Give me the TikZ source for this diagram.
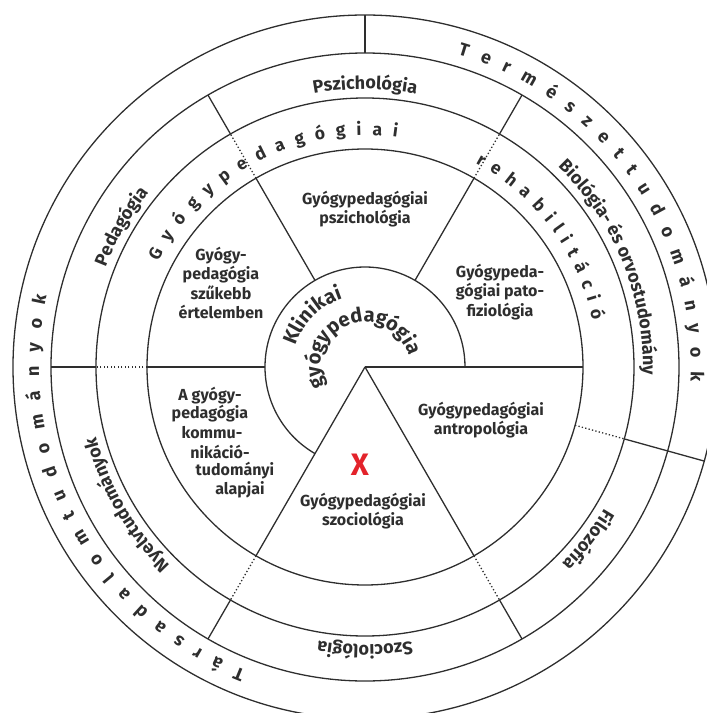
\documentclass[tikz,border=0pt]{standalone}
\usepackage{fontspec}
\setmainfont{Fira Sans}
\usetikzlibrary{decorations.text}
\definecolor{ink}{HTML}{2E2E2E}
\definecolor{xred}{HTML}{E3232B}
\newcommand\labfnt{\fontsize{16}{19.5}\selectfont\bfseries}
\newcommand\ringfnt{\fontsize{18}{18}\selectfont\bfseries}
\newcommand\spacedfnt{\fontsize{17.5}{17.5}\selectfont\bfseries}
\newcommand\outerfnt{\fontsize{18}{18}\selectfont\bfseries}
\newcommand\klinfnt{\fontsize{20}{20}\selectfont\bfseries}
\begin{document}
\begin{tikzpicture}[x=1pt,y=1pt,
  line/.style={draw=ink,line width=1.3pt},
  dots/.style={draw=ink,line width=1.3pt,dash pattern=on 1.3pt off 2.2pt},
  lab/.style={text=ink,font=\labfnt,align=center,inner sep=0pt},
  curved/.style={decorate,decoration={text along path,text color=ink,text align=center,text={#1}}},
  spaced/.style={decorate,decoration={text along path,text color=ink,text align=fit to path,text={#1}}}]
\useasboundingbox (-365,-346) rectangle (342,367);
\coordinate (O) at (0,0);
% circles
\draw[line] (O) circle[radius=352];
\draw[line] (O) circle[radius=314];
\draw[line] (O) circle[radius=269];
\draw[line] (O) circle[radius=218];
\draw[line] (0:100) arc[start angle=0,end angle=240,radius=100];
% radial lines
\foreach \a in {60,120,180}{\draw[line] (\a:100) -- (\a:218);}
\foreach \a in {0,240,300}{\draw[line] (O) -- (\a:218);}
\foreach \a in {60,120,180,240,300,344.5}{\draw[dots] (\a:218) -- (\a:269);}
\foreach \a in {60,120,180,240,300}{\draw[line] (\a:269) -- (\a:314);}
\draw[line] (344.5:269) -- (344.5:352);
\draw[line] (90:314) -- (90:352);
% inner labels
\node[lab] (psz) at (0,158) {Gyógypedagógiai\\pszichológia};
\node[lab] (pato) at (135,75) {Gyógypeda-\\gógiai pato-\\fiziológia};
\node[lab] (szuk) at (-144,84) {Gyógy-\\pedagógia\\szűkebb\\értelemben};
\node[lab] (antro) at (116,-53) {Gyógypedagógiai\\antropológia};
\node[lab] (szoc) at (-2,-144) {Gyógypedagógiai\\szociológia};
\node[lab] (k1) at (-155,-29) {A gyógy-};
\node[lab] (k2) at (-155,-47) {pedagógia};
\node[lab] (k3) at (-153,-66) {kommu-};
\node[lab] (k4) at (-145,-85) {nikáció-};
\node[lab] (k5) at (-130,-104) {tudományi};
\node[lab] (k6) at (-125,-123) {alapjai};
\node[text=xred,font=\fontsize{31}{31}\selectfont\bfseries,inner sep=0pt] (X) at (-5,-98) {X};
% Klinikai gyogypedagogia
\path[curved={|\klinfnt|Klinikai}] (180:72) arc[start angle=180,end angle=91,radius=72];
\path[curved={|\klinfnt|gyógypedagógia}] (215:45) arc[start angle=215,end angle=5,radius=45];
% inner ring
\path[spaced={|\spacedfnt|Gyógypedagógiai}] (153:232) arc[start angle=153,end angle=82,radius=232];
\path[spaced={|\spacedfnt|rehabilitáció}] (61.5:232) arc[start angle=61.5,end angle=11.5,radius=232];
% middle ring
\path[curved={|\ringfnt|Pszichológia}] (120:278) arc[start angle=120,end angle=60,radius=278];
\path[curved={|\ringfnt|Pedagógia}] (180:278) arc[start angle=180,end angle=120,radius=278];
\path[curved={|\ringfnt|Nyelvtudományok}] (240:278) arc[start angle=240,end angle=180,radius=278];
\path[curved={|\ringfnt|Szociológia}] (300:278) arc[start angle=300,end angle=240,radius=278];
\path[curved={|\ringfnt|Filozófia}] (344.5:278) arc[start angle=344.5,end angle=300,radius=278];
\path[curved={|\ringfnt|Biológia- és orvostudomány}] (60:278) arc[start angle=60,end angle=-15.5,radius=278];
% outer ring
\path[spaced={|\outerfnt|Természettudományok}] (73.5:326) arc[start angle=73.5,end angle=-2.5,radius=326];
\path[spaced={|\outerfnt|Társadalomtudományok}] (248.5:326) arc[start angle=248.5,end angle=167.5,radius=326];
\end{tikzpicture}
\end{document}
